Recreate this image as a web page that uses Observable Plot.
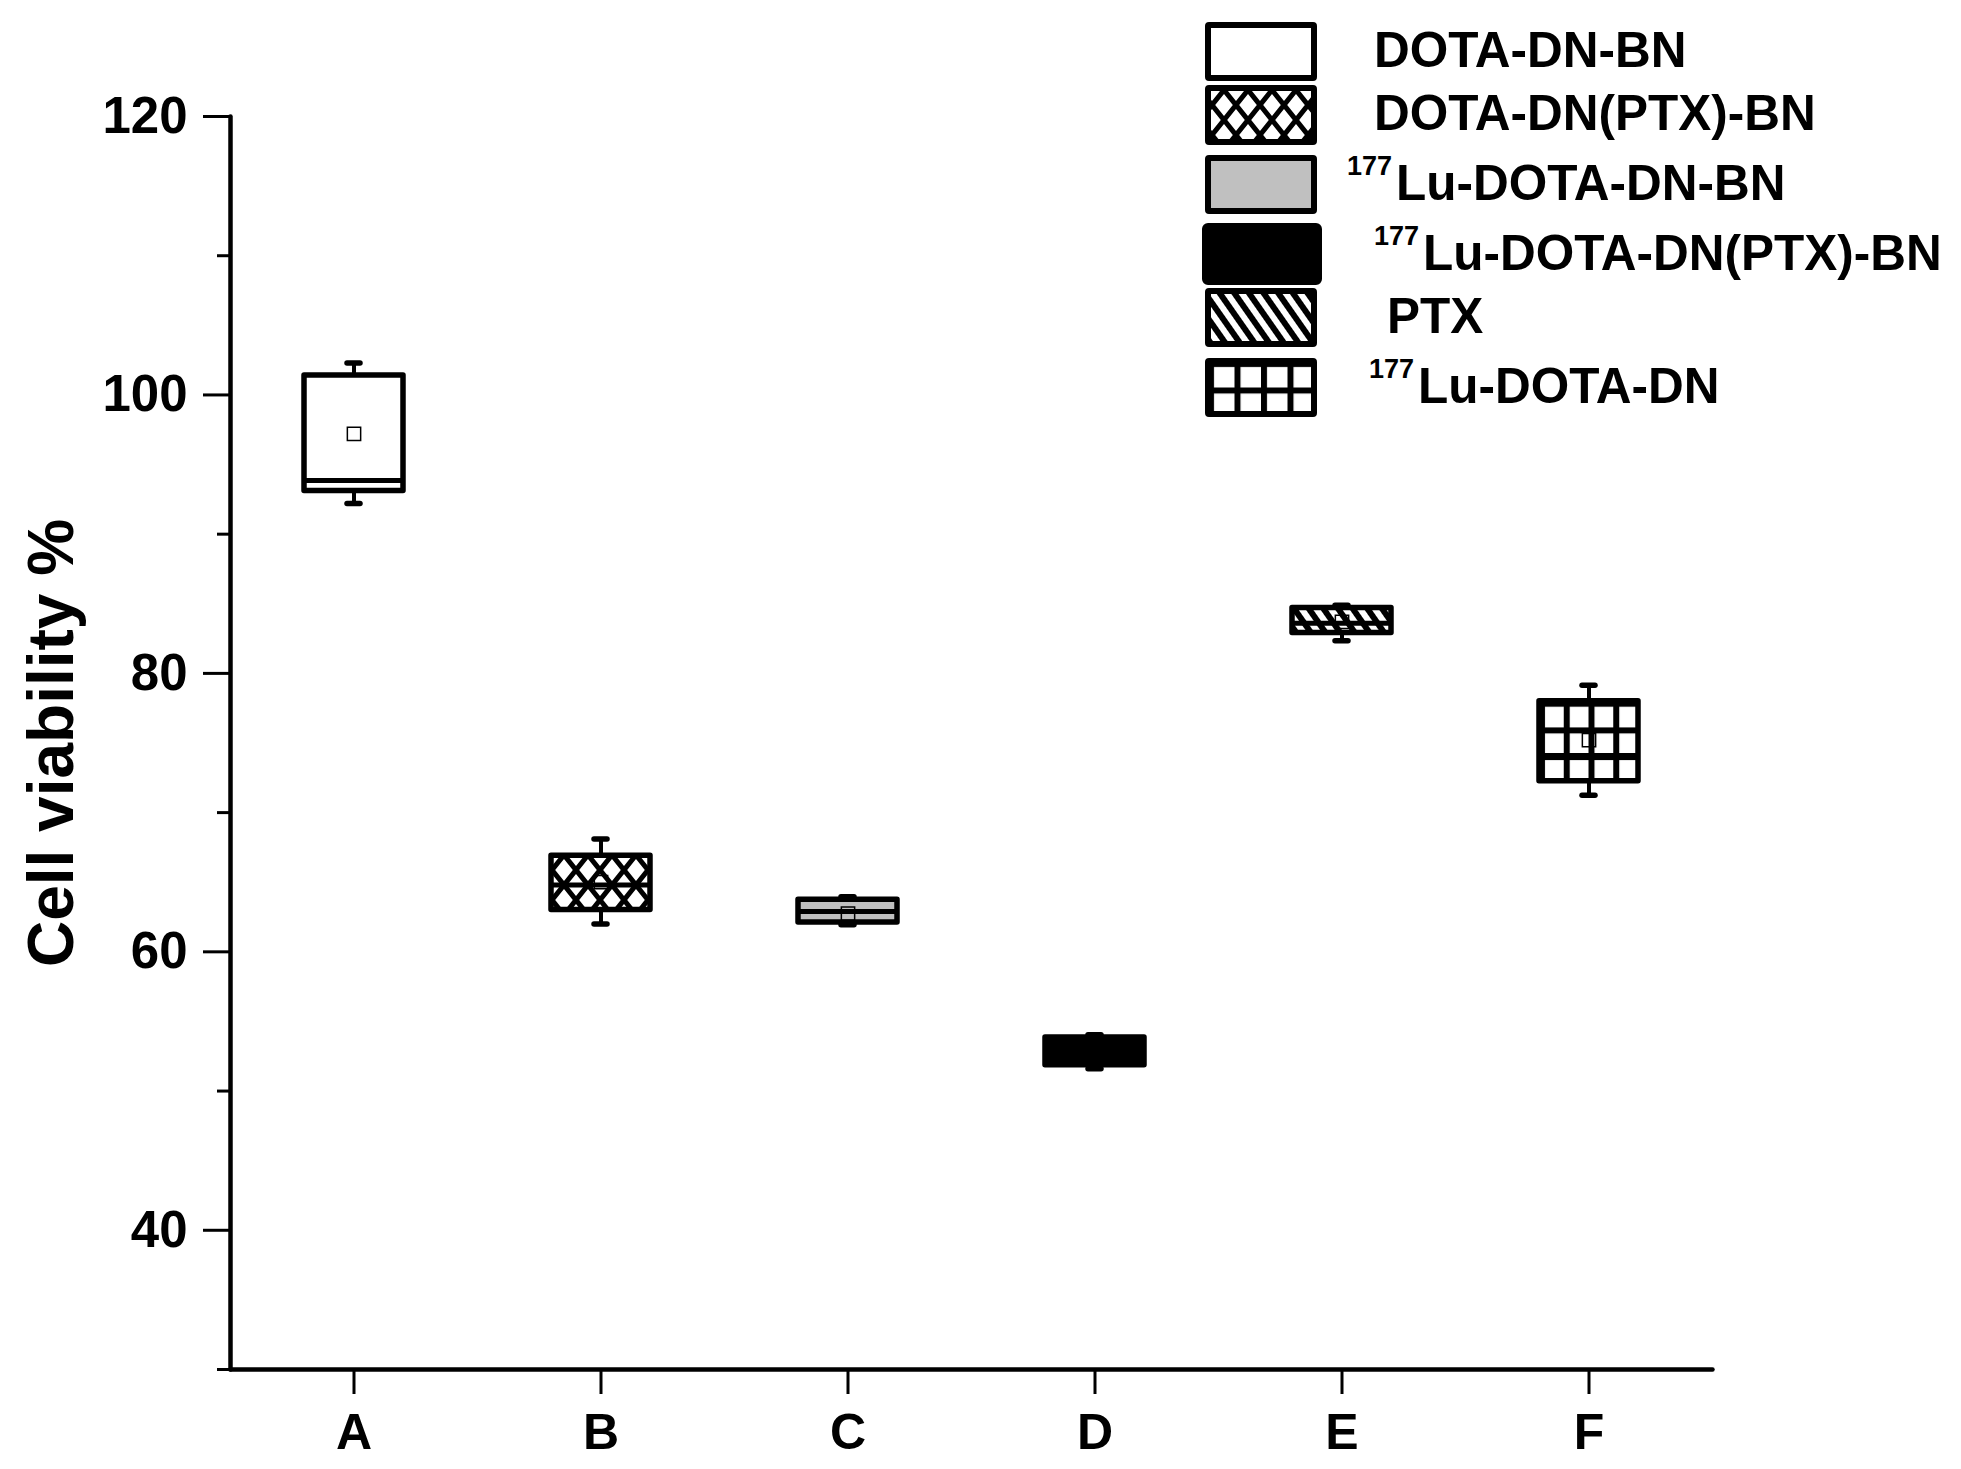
<!DOCTYPE html>
<html><head><meta charset="utf-8">
<script src="https://cdn.jsdelivr.net/npm/d3@7"></script>
<script src="https://cdn.jsdelivr.net/npm/@observablehq/plot@0.6"></script>
<style>html,body{margin:0;padding:0;background:#fff;overflow:hidden;} #chart{width:1961px;height:1469px;}</style>
</head><body><div id="chart"></div>
<script>
// ---- data ----
const categories   = ["A", "B", "C", "D", "E", "F"];
const whiskerHigh  = [102.3, 68.1, 63.95, 54.05, 84.9, 79.15];
const boxTop       = [101.4, 66.9, 63.75, 53.85, 84.7, 78.0];
const median       = [93.85, 64.8, 62.9, 52.8, 83.6, 74.1];
const mean         = [97.2, 65.0, 62.75, 52.8, 83.7, 75.2];
const boxBottom    = [93.1, 63.0, 62.1, 51.85, 82.9, 72.25];
const whiskerLow   = [92.2, 62.0, 61.95, 51.6, 82.35, 71.25];
const yTicks       = [40, 60, 80, 100, 120];
const yMinorTicks  = [30, 50, 70, 90, 110];
const yLabel       = "Cell viability %";
const legendLabels = ["DOTA-DN-BN", "DOTA-DN(PTX)-BN", "Lu-DOTA-DN-BN", "Lu-DOTA-DN(PTX)-BN", "PTX", "Lu-DOTA-DN"];
const legendSup    = ["", "", "177", "177", "", "177"];

// ---- styles ----
const fillOf = {A: "white", B: "url(#pat-cross)", C: "#c0c0c0", D: "black", E: "url(#pat-diag)", F: "url(#pat-grid)"};
const legendFill = ["white", "url(#pat-cross)", "#c0c0c0", "black", "url(#pat-diag)", "url(#pat-grid-leg)"];
const FONT = "'Liberation Sans', Arial, Helvetica, sans-serif";

const rows = categories.map((c, i) => ({
  cat: c, hi: whiskerHigh[i], q3: boxTop[i], med: median[i], mean: mean[i], q1: boxBottom[i], lo: whiskerLow[i]
}));

const capStyle = {strokeWidth: 5.5, strokeLinecap: "round", insetLeft: 43, insetRight: 43};

const plot = Plot.plot({
  width: 1961, height: 1469,
  marginTop: 116, marginBottom: 100, marginLeft: 230, marginRight: 249,
  style: {fontFamily: FONT, background: "white", color: "black", overflow: "visible"},
  x: {type: "band", domain: categories, paddingInner: 0.6, paddingOuter: 0.3, label: null},
  y: {domain: [30, 120], label: null},
  color: {type: "identity"},
  marks: [
    Plot.axisY(yMinorTicks, {tickSize: 13, strokeWidth: 3, text: null, label: null}),
    Plot.axisY(yTicks, {tickSize: 27, tickPadding: 16, strokeWidth: 3, fontSize: 51, fontWeight: "bold", label: null, tickFormat: d => String(d)}),
    Plot.axisX({tickSize: 25, tickPadding: 19, strokeWidth: 3, fontSize: 50, fontWeight: "bold", label: null}),
    Plot.frame({anchor: "left", strokeWidth: 4.5, strokeLinecap: "round"}),
    Plot.frame({anchor: "bottom", strokeWidth: 4.5, strokeLinecap: "round"}),
    Plot.text([yLabel], {frameAnchor: "left", textAnchor: "middle", lineAnchor: "middle", rotate: -90, dx: -178, fontSize: 64, fontWeight: "bold"}),
    Plot.ruleX(rows, {x: "cat", y1: "lo", y2: "hi", strokeWidth: 4}),
    Plot.barY(rows, {x: "cat", y1: "q1", y2: "q3", fill: d => fillOf[d.cat], stroke: "black", strokeWidth: 5.5, strokeLinejoin: "round"}),
    Plot.tickY(rows, {x: "cat", y: "med", strokeWidth: 5}),
    Plot.tickY(rows, {x: "cat", y: "hi", ...capStyle}),
    Plot.tickY(rows, {x: "cat", y: "lo", ...capStyle}),
    Plot.dot(rows, {x: "cat", y: "mean", symbol: "square", r: 7.5, stroke: "black", strokeWidth: 1.5, fill: "none"})
  ]
});

// ---- pattern definitions ----
const svg = d3.select(plot);
const defs = svg.insert("defs", ":first-child");
{
  const p = defs.append("pattern").attr("id", "pat-cross").attr("patternUnits", "userSpaceOnUse").attr("width", 24).attr("height", 30);
  p.append("rect").attr("width", 24).attr("height", 30).attr("fill", "white");
  let d = "";
  for (const k of [-1, 0, 1]) {
    d += `M${k*24},0L${k*24+24},30M${k*24+24},0L${k*24},30`;
  }
  p.append("path").attr("d", d).attr("stroke", "black").attr("stroke-width", 5).attr("fill", "none");
}
{
  const p = defs.append("pattern").attr("id", "pat-diag").attr("patternUnits", "userSpaceOnUse").attr("width", 12).attr("height", 12).attr("patternTransform", "rotate(-35)");
  p.append("rect").attr("width", 12).attr("height", 12).attr("fill", "white");
  p.append("rect").attr("width", 6).attr("height", 12).attr("fill", "black");
}
for (const [id, h] of [["pat-grid", 1/3], ["pat-grid-leg", 0.5]]) {
  const p = defs.append("pattern").attr("id", id).attr("patternUnits", "objectBoundingBox").attr("width", 0.25).attr("height", h);
  p.append("rect").attr("width", 2000).attr("height", 2000).attr("fill", "white");
  p.append("rect").attr("width", 6).attr("height", 2000).attr("fill", "black");
  p.append("rect").attr("width", 2000).attr("height", 6).attr("fill", "black");
}

// ---- legend (layout) ----
const legTop    = [22, 85, 155, 223, 288, 358];
const legBottom = [81, 145, 214, 285, 347, 417];
const legBase   = [67, 130, 200, 270, 333, 403];
const legMainX  = [1374, 1374, 1396, 1423, 1387, 1418];
const legSupX   = [0, 0, 1347, 1374, 0, 1369];
const lg = svg.append("g").attr("font-family", FONT).attr("font-weight", "bold").attr("fill", "black").attr("text-anchor", "start");
legendLabels.forEach((lab, i) => {
  const big = i === 3;
  const x0 = big ? 1205 : 1208, w = big ? 114 : 106;
  lg.append("rect").attr("x", x0).attr("y", legTop[i] + 3).attr("width", w).attr("height", legBottom[i] - legTop[i] - 6)
    .attr("fill", legendFill[i]).attr("stroke", "black").attr("stroke-width", 6).attr("stroke-linejoin", "round").attr("rx", big ? 3 : 1);
  if (legendSup[i]) {
    lg.append("text").attr("x", legSupX[i]).attr("y", legBase[i] - 25).attr("font-size", 27).attr("text-anchor", "start").text(legendSup[i]);
  }
  lg.append("text").attr("x", legMainX[i]).attr("y", legBase[i]).attr("font-size", 49.5).attr("text-anchor", "start").text(lab);
});

document.getElementById("chart").appendChild(plot);
</script>
</body></html>
